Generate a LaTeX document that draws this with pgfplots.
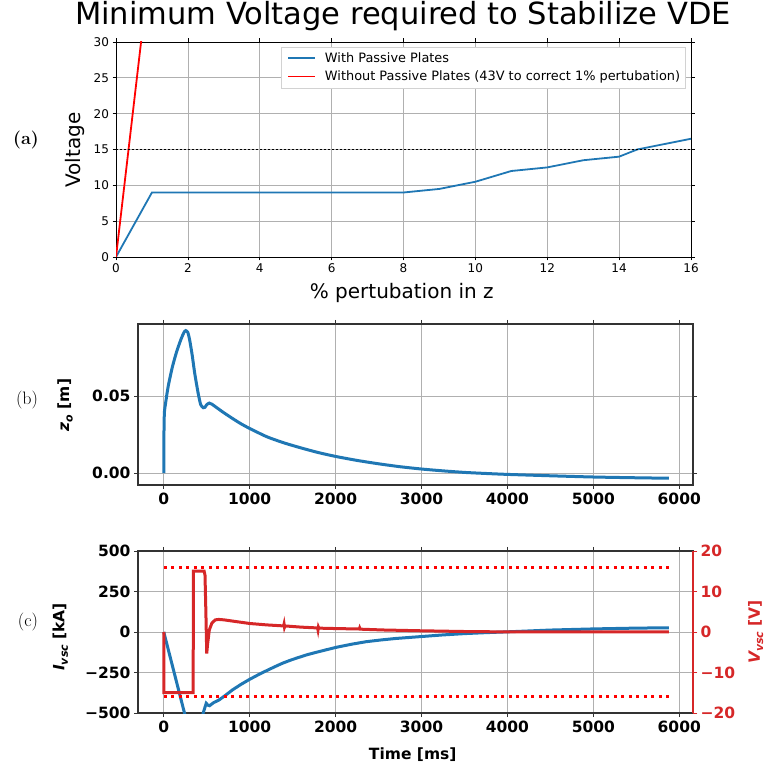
\documentclass[border=0pt]{standalone}
\usepackage{fontspec}
\newfontfamily\djv{DejaVu Sans}
\usepackage{pgfplots}
\pgfplotsset{compat=1.18}
\definecolor{tabblue}{HTML}{1F77B4}
\definecolor{tabred}{HTML}{D62728}
\definecolor{pured}{HTML}{FF0000}
\definecolor{gridgray}{HTML}{B0B0B0}
\newcommand{\sub}[1]{\raisebox{-0.4ex}{\fontsize{11}{12}\selectfont #1}}
\newcommand{\legline}[1]{\tikz[baseline=-0.6ex]{\draw[#1, line width=1.8pt] (0pt,0pt) -- (27pt,0pt);}\hspace{9pt}}
\begin{document}
\begin{tikzpicture}
\useasboundingbox (0pt,0pt) rectangle (766pt,769pt);
% ---------------- (a) ----------------
\begin{axis}[at={(116pt,512pt)}, anchor=south west, width=575pt, height=215pt, scale only axis,
  xmin=0, xmax=16, ymin=0, ymax=30,
  xtick={0,2,...,16}, ytick={0,5,...,30},
  grid=major, grid style={gridgray, line width=0.7pt},
  axis line style={black, line width=0.8pt},
  tick align=outside, tick style={black, line width=0.7pt}, major tick length=3.5pt,
  /pgf/number format/assume math mode=true,
  tick label style={font=\djv\fontsize{12}{14}\selectfont},
  title={Minimum Voltage required to Stabilize VDE},
  title style={font=\djv\fontsize{30.5}{34}\selectfont, at={(axis description cs:0.499,1.093)}, anchor=center},
  xlabel={\% pertubation in z},
  xlabel style={font=\djv\fontsize{20}{23}\selectfont, at={(axis description cs:0.497,-0.167)}, anchor=center},
  ylabel={Voltage},
  ylabel style={font=\djv\fontsize{20}{23}\selectfont, at={(axis description cs:-0.0713,0.498)}, anchor=center},
  legend style={at={(0.991,0.977)}, anchor=north east, draw=gray!35, fill=white,
    font=\djv\fontsize{12.9}{15}\selectfont, row sep=3pt, inner sep=3.5pt},
  legend cell align=left,
  legend plot pos=none,
]
\addplot[tabblue, line width=1.8pt] coordinates {
  (0,0) (1,9) (2,9) (3,9) (4,9) (5,9) (6,9) (7,9) (8,9) (9,9.5) (10,10.5)
  (11,12) (12,12.5) (13,13.5) (14,14) (14.5,15) (15,15.5) (16,16.5)};
\addlegendentry{\legline{tabblue}With Passive Plates}
\addplot[pured, line width=1.8pt] coordinates {(0,0) (1,43)};
\addlegendentry{\legline{pured}Without Passive Plates (43V to correct 1\% pertubation)}
\addplot[black, line width=1.7pt, dash pattern=on 1.7pt off 2.3pt, forget plot] coordinates {(0,15) (16,15)};
\end{axis}
% ---------------- (b) ----------------
\begin{axis}[at={(138pt,284pt)}, anchor=south west, width=555pt, height=161pt, scale only axis,
  xmin=-300, xmax=6160, ymin=-0.0078, ymax=0.097,
  xtick={0,1000,...,6000}, ytick={0,0.05}, yticklabels={0.00,0.05},
  scaled y ticks=false,
  /pgf/number format/1000 sep={},
  grid=major, grid style={gridgray, line width=0.8pt},
  axis line style={black!80, line width=1.2pt},
  tick align=outside, tick style={black!80, line width=0.9pt}, major tick length=4pt,
  /pgf/number format/assume math mode=true,
  tick label style={font=\djv\bfseries\fontsize{15.5}{18}\selectfont},
  ylabel={\itshape z\sub{o} \upshape [m]},
  ylabel style={font=\djv\bfseries\fontsize{15.5}{18}\selectfont, at={(axis description cs:-0.1315,0.497)}, anchor=center},
]
\addplot[tabblue, line width=3pt, smooth, tension=0.4] coordinates {
  (0,0) (3,0.030) (8,0.040) (20,0.045) (50,0.056) (100,0.069) (150,0.079)
  (200,0.087) (235,0.0915) (255,0.0927) (280,0.0915) (300,0.087) (330,0.077)
  (360,0.065) (400,0.052) (430,0.0445) (460,0.0425) (480,0.0428) (500,0.0445)
  (530,0.0455) (560,0.0448) (600,0.0432) (700,0.0392) (800,0.0355) (900,0.032)
  (1000,0.029) (1200,0.0236) (1400,0.0196) (1600,0.0163) (1800,0.0133) (2000,0.0108)
  (2250,0.0082) (2500,0.006) (2750,0.0041) (3000,0.0026) (3250,0.0014)
  (3500,0.0004) (3750,-0.0003) (4000,-0.0009) (4500,-0.0018) (5000,-0.0026)
  (5500,-0.0031) (5880,-0.0034)};
\end{axis}
% ---------------- (c) ----------------
\begin{axis}[at={(138pt,56pt)}, anchor=south west, width=555pt, height=162pt, scale only axis,
  xmin=-300, xmax=6160, ymin=-500, ymax=500,
  xtick={0,1000,...,6000}, ytick={-500,-250,0,250,500},
  yticklabels={−500,−250,0,250,500},
  /pgf/number format/1000 sep={},
  grid=major, grid style={gridgray, line width=0.8pt},
  axis line style={black!80, line width=1.2pt},
  tick align=outside, tick style={black!80, line width=0.9pt}, major tick length=4pt,
  /pgf/number format/assume math mode=true,
  tick label style={font=\djv\bfseries\fontsize{15.5}{18}\selectfont},
  xlabel={Time [ms]},
  xlabel style={font=\djv\bfseries\fontsize{15.5}{18}\selectfont, at={(axis description cs:0.495,-0.259)}, anchor=center},
  ylabel={\itshape I\sub{vsc} \upshape [kA]},
  ylabel style={font=\djv\bfseries\fontsize{15.5}{18}\selectfont, at={(axis description cs:-0.14,0.47)}, anchor=center},
]
\addplot[tabblue, line width=3pt] coordinates {
  (0,0) (241,-500) (320,-665) (360,-690) (400,-640) (459,-500) (494,-440)
  (515,-452) (533,-455) (580,-436) (642,-420) (720,-390) (798,-358) (900,-323)
  (1000,-292) (1100,-264) (1187,-241) (1290,-215) (1381,-193) (1480,-173) (1576,-156)
  (1670,-140) (1770,-126) (1890,-110) (2004,-95) (2180,-76)
  (2354,-60) (2530,-49) (2700,-40) (3000,-28) (3250,-18) (3500,-10) (3750,-4) (4000,1) (4500,12) (5000,19)
  (5500,24) (5880,26)};
\end{axis}
\begin{axis}[at={(138pt,56pt)}, anchor=south west, width=555pt, height=162pt, scale only axis,
  xmin=-300, xmax=6160, ymin=-20, ymax=20,
  axis y line*=right, axis x line=none,
  ytick={-20,-10,0,10,20}, yticklabels={−20,−10,0,10,20},
  y axis line style={tabred, line width=1.2pt},
  tick align=outside, ytick style={tabred, line width=0.9pt}, major tick length=4pt,
  /pgf/number format/assume math mode=true,
  yticklabel style={tabred, font=\djv\bfseries\fontsize{15.5}{18}\selectfont},
  ylabel={\itshape V\sub{vsc} \upshape [V]},
  ylabel style={tabred, font=\djv\bfseries\fontsize{15.5}{18}\selectfont, at={(axis description cs:1.113,0.5)}, anchor=center},
]
\addplot[pured, line width=3pt, dash pattern=on 3pt off 4.5pt] coordinates {(0,16) (5880,16)};
\addplot[pured, line width=3pt, dash pattern=on 3pt off 4.5pt] coordinates {(0,-16) (5880,-16)};
\addplot[tabred, line width=3pt] coordinates {
  (0,0) (2,-15) (342,-15) (345,15) (470,15) (480,14) (490,5) (500,-5.3)
  (510,-3) (530,0.5) (560,2.2) (600,3.0) (640,3.1) (700,3.0) (800,2.7)
  (1000,2.1) (1200,1.75) (1395,1.5) (1400,1.95) (1405,1.2) (1410,1.5)
  (1600,1.2) (1790,1.0) (1795,0.5) (1800,1.2) (1805,0.95) (2000,0.85)
  (2276,0.74) (2280,0.98) (2285,0.7) (2550,0.5) (3000,0.3) (3500,0.12)
  (4000,0.02) (4500,0) (5880,0)};
\end{axis}
% panel letters
\node[font=\fontsize{18}{20}\selectfont\bfseries] at (26pt,629pt) {(a)};
\node[font=\fontsize{18}{20}\selectfont] at (27pt,369pt) {(b)};
\node[font=\fontsize{18}{20}\selectfont] at (28pt,147pt) {(c)};
\end{tikzpicture}
\end{document}
